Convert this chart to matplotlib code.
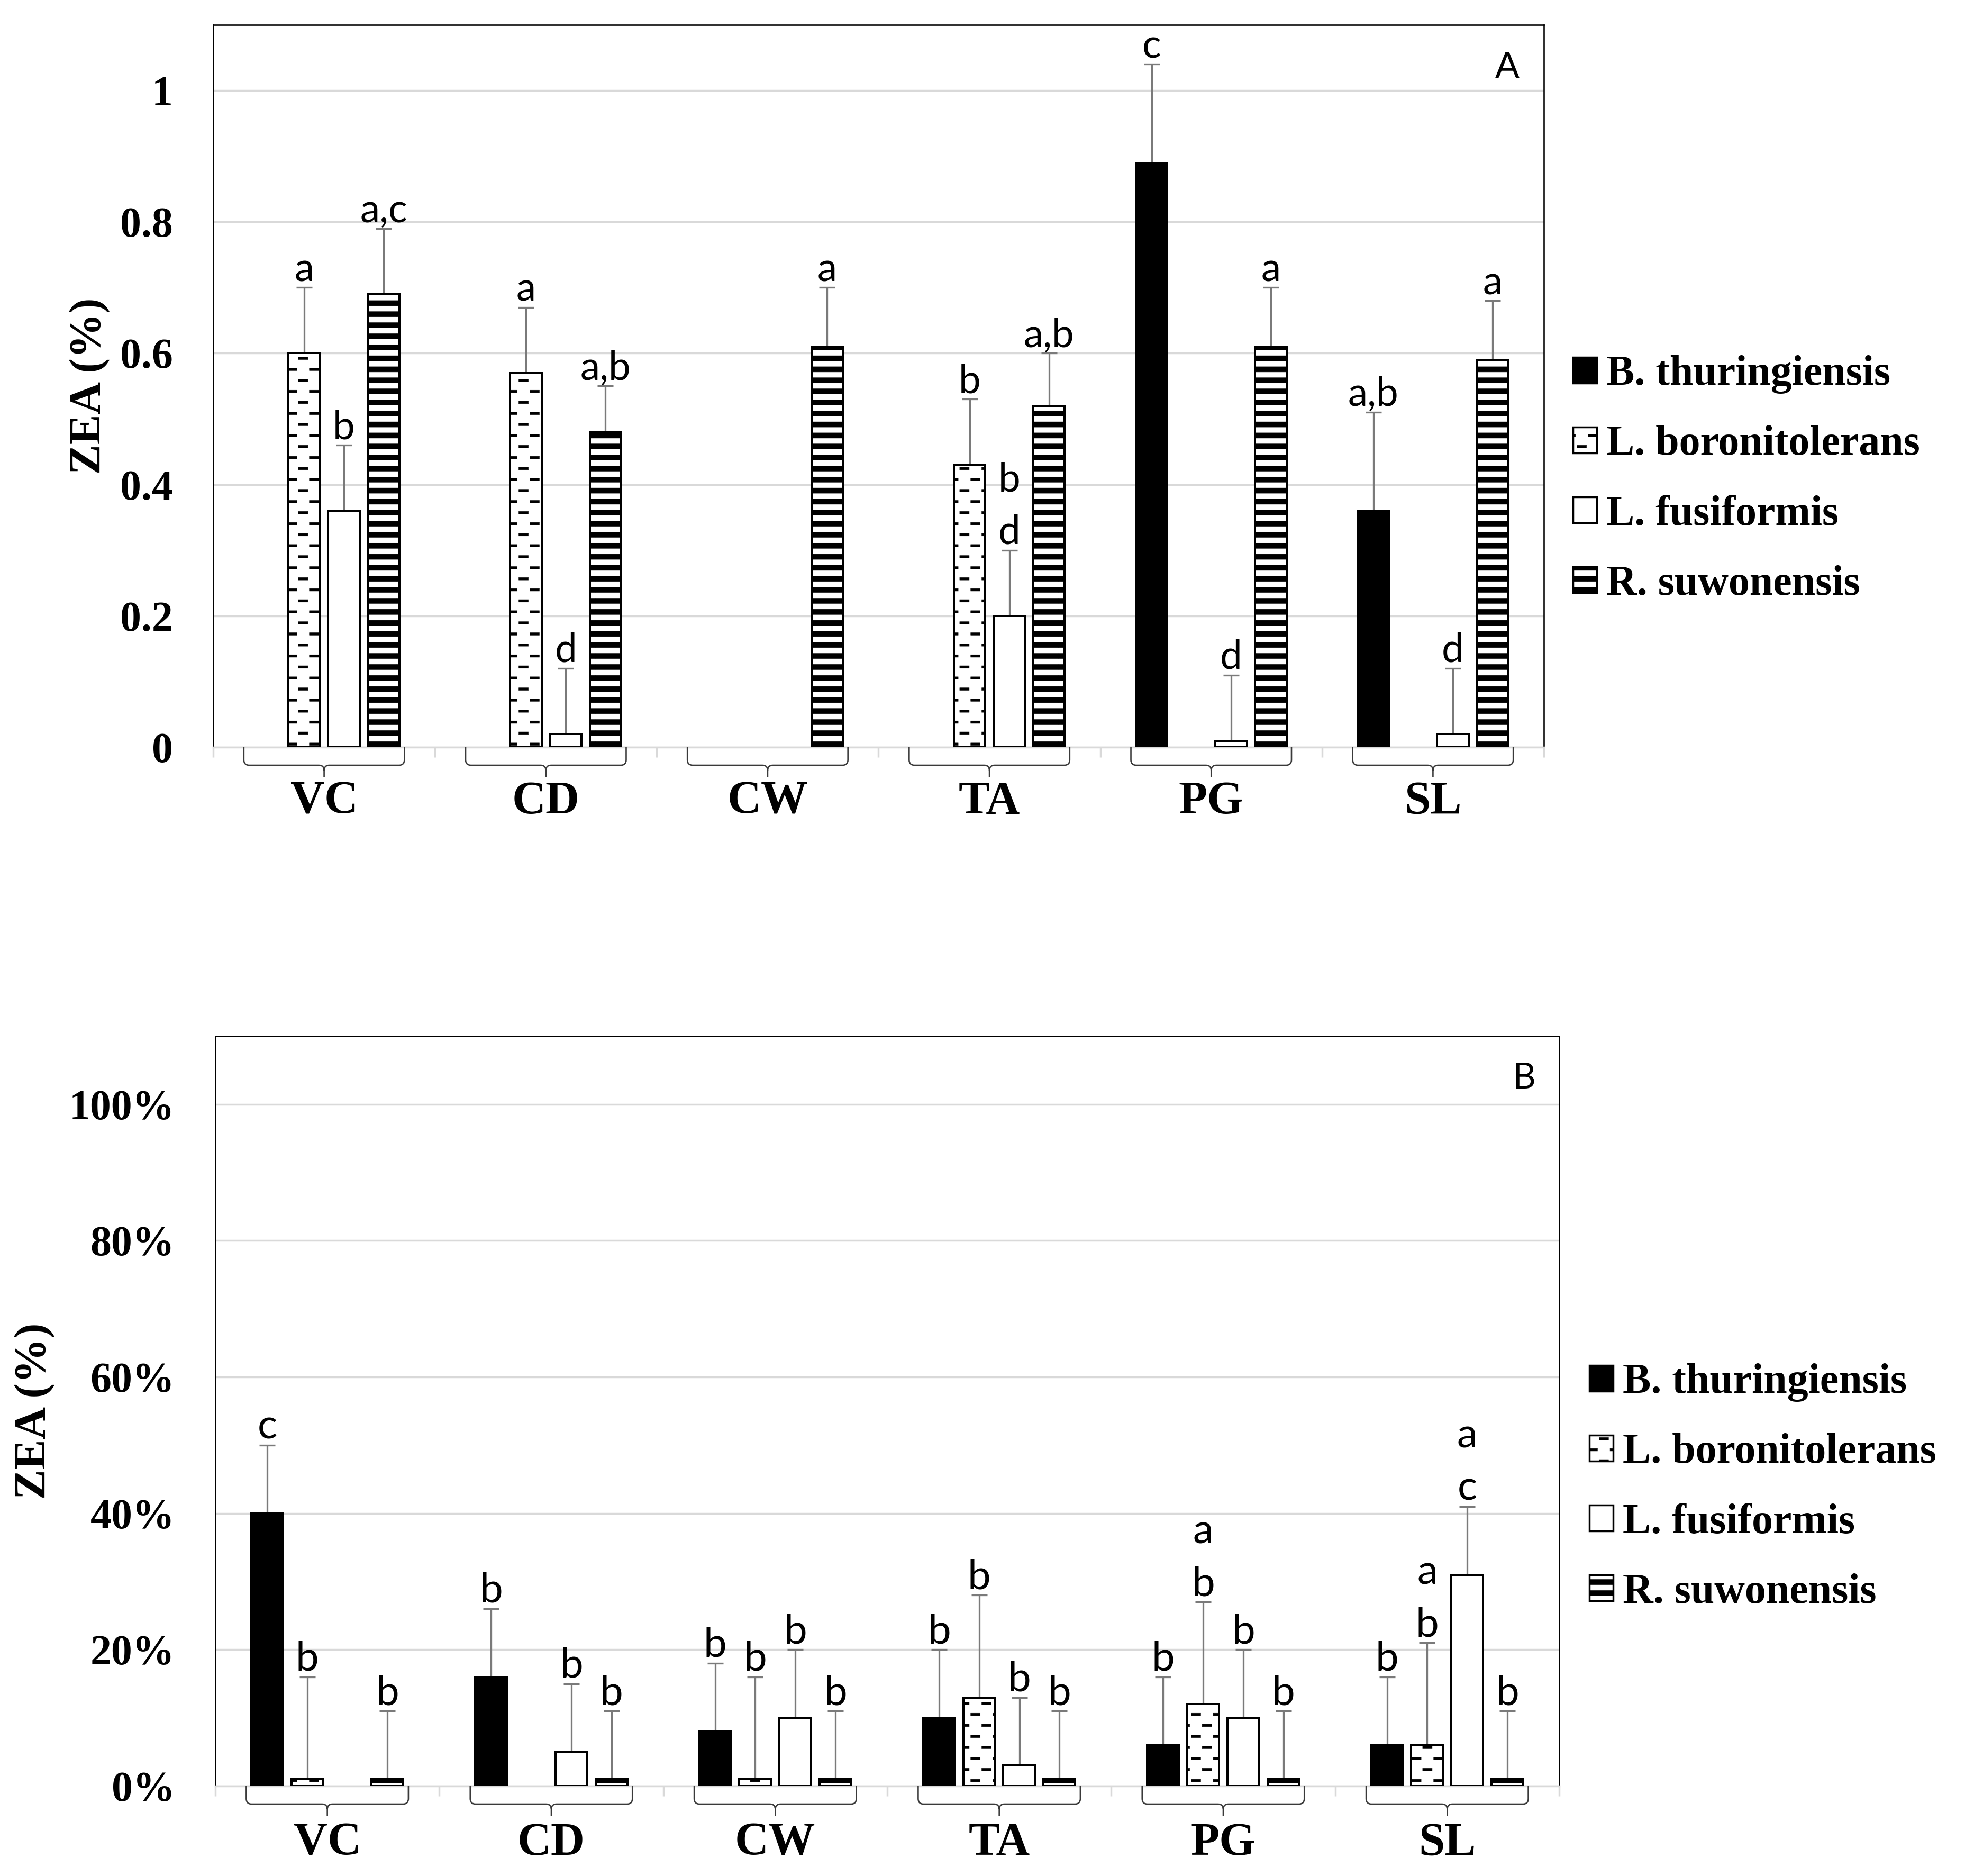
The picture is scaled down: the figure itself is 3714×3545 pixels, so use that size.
import numpy as np
import matplotlib
matplotlib.use('Agg')
import matplotlib.pyplot as plt
import matplotlib.hatch as mhatch
from matplotlib.path import Path
from matplotlib.patches import PathPatch, Rectangle
from matplotlib.transforms import blended_transform_factory

nan = np.nan

# ---------------- data ----------------
groups = ['VC', 'CD', 'CW', 'TA', 'PG', 'SL']
species = ['B. thuringiensis', 'L. boronitolerans', 'L. fusiformis', 'R. suwonensis']

# Panel A (ZEA fraction)
a_bthur = [nan, nan, nan, nan, 0.89, 0.36]
a_bthur_sd = [nan, nan, nan, nan, 0.15, 0.15]
a_bthur_lab = ['', '', '', '', 'c', 'a,b']
a_lboron = [0.60, 0.57, nan, 0.43, nan, nan]
a_lboron_sd = [0.10, 0.10, nan, 0.10, nan, nan]
a_lboron_lab = ['a', 'a', '', 'b', '', '']
a_lfus = [0.36, 0.02, nan, 0.20, 0.01, 0.02]
a_lfus_sd = [0.10, 0.10, nan, 0.10, 0.10, 0.10]
a_lfus_lab = ['b', 'd', '', 'b\nd', 'd', 'd']
a_rsuw = [0.69, 0.48, 0.61, 0.52, 0.61, 0.59]
a_rsuw_sd = [0.10, 0.07, 0.09, 0.08, 0.09, 0.09]
a_rsuw_lab = ['a,c', 'a,b', 'a', 'a,b', 'a', 'a']

# Panel B (ZEA %, as fraction)
b_bthur = [0.40, 0.16, 0.08, 0.10, 0.06, 0.06]
b_bthur_sd = [0.10, 0.10, 0.10, 0.10, 0.10, 0.10]
b_bthur_lab = ['c', 'b', 'b', 'b', 'b', 'b']
b_lboron = [0.01, nan, 0.01, 0.13, 0.12, 0.06]
b_lboron_sd = [0.15, nan, 0.15, 0.15, 0.15, 0.15]
b_lboron_lab = ['b', '', 'b', 'b', 'a\nb', 'a\nb']
b_lfus = [nan, 0.05, 0.10, 0.03, 0.10, 0.31]
b_lfus_sd = [nan, 0.10, 0.10, 0.10, 0.10, 0.10]
b_lfus_lab = ['', 'b', 'b', 'b', 'b', 'a\nc']
b_rsuw = [0.01, 0.01, 0.01, 0.01, 0.01, 0.01]
b_rsuw_sd = [0.10, 0.10, 0.10, 0.10, 0.10, 0.10]
b_rsuw_lab = ['b', 'b', 'b', 'b', 'b', 'b']

a_ticks = [0, 0.2, 0.4, 0.6, 0.8, 1.0]
a_ticklabels = ['0', '0.2', '0.4', '0.6', '0.8', '1']
b_ticks = [0, 0.2, 0.4, 0.6, 0.8, 1.0]
b_ticklabels = ['0%', '20%', '40%', '60%', '80%', '100%']

# ---------------- custom hatches ----------------
class _RectHatch(mhatch.HatchPatternBase):
    key = ''
    rects = ()

    def __init__(self, hatch, density):
        self.num_vertices = 5 * len(self.rects) if (hatch and self.key in hatch) else 0

    def set_vertices_and_codes(self, vertices, codes):
        for i, (x0, y0, x1, y1) in enumerate(self.rects):
            vertices[5 * i:5 * i + 5] = [(x0, y0), (x1, y0), (x1, y1), (x0, y1), (x0, y0)]
            codes[5 * i] = Path.MOVETO
            codes[5 * i + 1:5 * i + 4] = Path.LINETO
            codes[5 * i + 4] = Path.CLOSEPOLY


def _band_rects():
    out = []
    for k in range(6):
        yc = (k + 0.5) / 6
        out.append((0.0, yc - 0.04, 1.0, yc + 0.04))
    return tuple(out)


def _dash_rects():
    out = []
    t = 0.019
    half = 0.072
    for k in range(6):
        yc = (k + 0.5) / 6
        shift = 0.25 if k % 2 == 0 else 0.75
        for m in range(3):
            xc = (m + shift) / 3
            out.append((xc - half, yc - t, xc + half, yc + t))
    return tuple(out)


class BandHatch(_RectHatch):
    key = '*'
    rects = _band_rects()


class DashHatch(_RectHatch):
    key = '.'
    rects = _dash_rects()


try:
    _types = [t for t in mhatch._hatch_types
              if t not in (mhatch.SmallFilledCircles, mhatch.Stars)]
    mhatch._hatch_types = _types + [DashHatch, BandHatch]
    HATCH_DASH, HATCH_BAND = '.', '*'
except AttributeError:
    HATCH_DASH, HATCH_BAND = '-', '---'

plt.rcParams['hatch.linewidth'] = 0.3
plt.rcParams['hatch.color'] = 'black'

# ---------------- figure ----------------
DPI = 125
W, H = 3714, 3545
fig = plt.figure(figsize=(W / DPI, H / DPI), dpi=DPI)

SERIF = 'Liberation Serif'
SANS = 'Lato'

panels = [
    dict(rect=(403, 47, 2918, 1412), letter='A', letter_pos=(0.9726, 0.9407),
         series=[(a_bthur, a_bthur_sd, a_bthur_lab), (a_lboron, a_lboron_sd, a_lboron_lab),
                 (a_lfus, a_lfus_sd, a_lfus_lab), (a_rsuw, a_rsuw_sd, a_rsuw_lab)],
         ticks=a_ticks, ticklabels=a_ticklabels, ylabel_x=170, ann_size=43,
         legend_xy=(2973, 906), xpad=36),
    dict(rect=(407, 1958, 2947, 3375), letter='B', letter_pos=(0.974, 0.9435),
         series=[(b_bthur, b_bthur_sd, b_bthur_lab), (b_lboron, b_lboron_sd, b_lboron_lab),
                 (b_lfus, b_lfus_sd, b_lfus_lab), (b_rsuw, b_rsuw_sd, b_rsuw_lab)],
         ticks=b_ticks, ticklabels=b_ticklabels, ylabel_x=66, ann_size=45,
         legend_xy=(3004, 2811), xpad=39),
]

styles = [
    dict(facecolor='black', edgecolor='black'),
    dict(facecolor='white', edgecolor='black', hatch=HATCH_DASH),
    dict(facecolor='white', edgecolor='black'),
    dict(facecolor='white', edgecolor='black', hatch=HATCH_BAND),
]

slot = 0.179
bw = 0.142
x = np.arange(len(groups))
YMAX = 1.1
LEG_FS = 46


def brace(ax, xc, half, ax_w_px, ax_h_px, xspan):
    ppx = ax_w_px / xspan
    r, e, t = 10.0, 34.0, 56.0
    dx = r / ppx

    def yy(px):
        return -px / ax_h_px

    x0, x1 = xc - half, xc + half
    verts = [(x0, 0), (x0, yy(e - r)), (x0, yy(e)), (x0 + dx, yy(e)),
             (xc - dx, yy(e)), (xc, yy(e)), (xc, yy(e + r)), (xc, yy(t)),
             (xc, yy(e + r)), (xc, yy(e)), (xc + dx, yy(e)),
             (x1 - dx, yy(e)), (x1, yy(e)), (x1, yy(e - r)), (x1, 0)]
    codes = [Path.MOVETO, Path.LINETO, Path.CURVE3, Path.CURVE3,
             Path.LINETO, Path.CURVE3, Path.CURVE3, Path.LINETO,
             Path.MOVETO, Path.CURVE3, Path.CURVE3,
             Path.LINETO, Path.CURVE3, Path.CURVE3, Path.LINETO]
    tr = blended_transform_factory(ax.transData, ax.transAxes)
    ax.add_patch(PathPatch(Path(verts, codes), fill=False, edgecolor='#3a3a3a',
                           lw=1.5, transform=tr, clip_on=False, zorder=5))


for p in panels:
    l, t, r, b = p['rect']
    ax = fig.add_axes([l / W, 1 - b / H, (r - l) / W, (b - t) / H])
    ax_w_px, ax_h_px = r - l, b - t
    ax.set_xlim(-0.5, len(groups) - 0.5)
    ax.set_ylim(0, YMAX)

    handles = []
    for i, (vals, sds, labs) in enumerate(p['series']):
        xs = x + (i - 1.5) * slot
        v = np.array(vals, dtype=float)
        s = np.array(sds, dtype=float)
        ax.bar(xs, v, width=bw, linewidth=2.3, zorder=3, label=species[i], **styles[i])
        handles.append(Rectangle((0, 0), 1, 1, linewidth=2.0, **styles[i]))
        ax.errorbar(xs, v, yerr=[np.zeros_like(s), s], fmt='none', ecolor='#7a7a7a',
                    elinewidth=1.9, capsize=8.5, capthick=1.9, zorder=2)
        for j, lab in enumerate(labs):
            if not lab or np.isnan(v[j]):
                continue
            top = v[j] + s[j]
            for k, line in enumerate(reversed(lab.split('\n'))):
                ax.annotate(line, (xs[j], top), xytext=(0, 7 + k * 57),
                            textcoords='offset points', ha='center', va='baseline',
                            fontsize=p['ann_size'], family=SANS, color='black',
                            zorder=6)

    # axes styling
    ax.set_yticks(p['ticks'])
    ax.set_yticklabels(p['ticklabels'], fontfamily=SERIF, fontweight='bold', fontsize=46)
    ax.tick_params(axis='y', length=0, pad=44)
    ax.set_xticks(x)
    ax.set_xticklabels(groups, fontfamily=SERIF, fontweight='bold', fontsize=51)
    ax.tick_params(axis='x', which='major', length=0, pad=p['xpad'])
    ax.set_xticks(np.arange(-0.5, len(groups), 1.0), minor=True)
    ax.tick_params(axis='x', which='minor', length=11, width=2, color='#d9d9d9',
                   direction='out')
    ax.yaxis.grid(True, color='#d9d9d9', lw=2)
    ax.set_axisbelow(True)
    for side in ('left', 'top', 'right'):
        ax.spines[side].set_color('black')
        ax.spines[side].set_linewidth(1.5)
    ax.spines['bottom'].set_color('#d9d9d9')
    ax.spines['bottom'].set_linewidth(2)

    ax.text((p['ylabel_x'] - l) / ax_w_px, 0.5, 'ZEA (%)', transform=ax.transAxes,
            rotation=90, ha='center', va='center', fontfamily=SERIF,
            fontweight='bold', fontsize=49)
    ax.text(p['letter_pos'][0], p['letter_pos'][1], p['letter'], transform=ax.transAxes,
            ha='center', va='center', fontfamily=SANS, fontsize=39)

    for xc in x:
        brace(ax, xc, 0.362, ax_w_px, ax_h_px, len(groups))

    lx, ly = p['legend_xy']
    hl = 45.0 / (LEG_FS * DPI / 72.0)
    ax.legend(handles, species, loc='center left', bbox_to_anchor=(lx / W, 1 - ly / H),
              bbox_transform=fig.transFigure, frameon=False, borderpad=0,
              borderaxespad=0, handlelength=hl, handleheight=hl,
              handletextpad=0.22, labelspacing=0.74,
              prop=dict(family=SERIF, weight='bold', size=LEG_FS))

fig.savefig('out.png', dpi=DPI, facecolor='white')
